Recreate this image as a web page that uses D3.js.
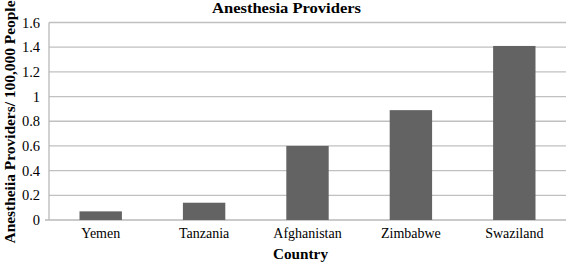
<!DOCTYPE html>
<html><head><meta charset="utf-8">
<script src="https://cdn.jsdelivr.net/npm/d3@7"></script>
<style>body{margin:0;background:#fff}svg{display:block}text{font-family:"Liberation Serif","Times New Roman",serif}</style>
</head><body>
<svg id="c" width="567" height="264"></svg>
<script>
const categories = ["Yemen","Tanzania","Afghanistan","Zimbabwe","Swaziland"];
const values = [0.07,0.14,0.6,0.89,1.41];
const yTicks = [0,0.2,0.4,0.6,0.8,1,1.2,1.4,1.6];
const title = "Anesthesia Providers";
const xTitle = "Country";
const yTitle = "Anestheiia Providers/ 100,000 People";

const svg = d3.select("#c");
const L = 49, R = 566, T = 22.5, B = 220;
const x = d3.scaleBand().domain(categories).range([L,R]).paddingInner(0.59).paddingOuter(0.295);
const y = d3.scaleLinear().domain([0,1.6]).range([B,T]);

// gridlines
svg.append("g").selectAll("line").data(yTicks.slice(1)).join("line")
  .attr("x1",L).attr("x2",R).attr("y1",d=>y(d)).attr("y2",d=>y(d))
  .attr("stroke","#c0c0c0").attr("stroke-width",1.3);
// axes lines
svg.append("line").attr("x1",L).attr("x2",L).attr("y1",T).attr("y2",B).attr("stroke","#b8b8b8").attr("stroke-width",1.3);
svg.append("line").attr("x1",L-4).attr("x2",R).attr("y1",B).attr("y2",B).attr("stroke","#b8b8b8").attr("stroke-width",1.3);

// y tick labels
const ya = d3.axisLeft(y).tickValues(yTicks).tickSize(0).tickPadding(9).tickFormat(d=>String(d));
const gy = svg.append("g").attr("transform",`translate(${L},0)`).call(ya);
gy.select(".domain").remove();
gy.selectAll("text").attr("font-size",14.5).attr("fill","#000").style("font-family","'Liberation Serif',serif");

// bars
svg.append("g").selectAll("rect").data(values).join("rect")
  .attr("x",(d,i)=>x(categories[i])).attr("width",x.bandwidth())
  .attr("y",d=>y(d)).attr("height",d=>B-y(d)).attr("fill","#636363");

// x labels
const xa = d3.axisBottom(x).tickSize(0).tickPadding(8);
const gx = svg.append("g").attr("transform",`translate(0,${B})`).call(xa);
gx.select(".domain").remove();
gx.selectAll("text").attr("font-size",14).attr("fill","#000").style("font-family","'Liberation Serif',serif");

svg.append("text").attr("x",286.5).attr("y",13).attr("text-anchor","middle")
  .attr("font-size",15.5).attr("font-weight","bold")
  .attr("textLength",149).attr("lengthAdjust","spacingAndGlyphs").text(title);
svg.append("text").attr("x",300.5).attr("y",258.5).attr("text-anchor","middle")
  .attr("font-size",14.5).attr("font-weight","bold")
  .attr("textLength",55).attr("lengthAdjust","spacingAndGlyphs").text(xTitle);
svg.append("text").attr("transform","translate(15,122) rotate(-90)").attr("text-anchor","middle")
  .attr("font-size",14.5).attr("font-weight","bold")
  .attr("textLength",243).attr("lengthAdjust","spacingAndGlyphs").text(yTitle);
</script>
</body></html>
